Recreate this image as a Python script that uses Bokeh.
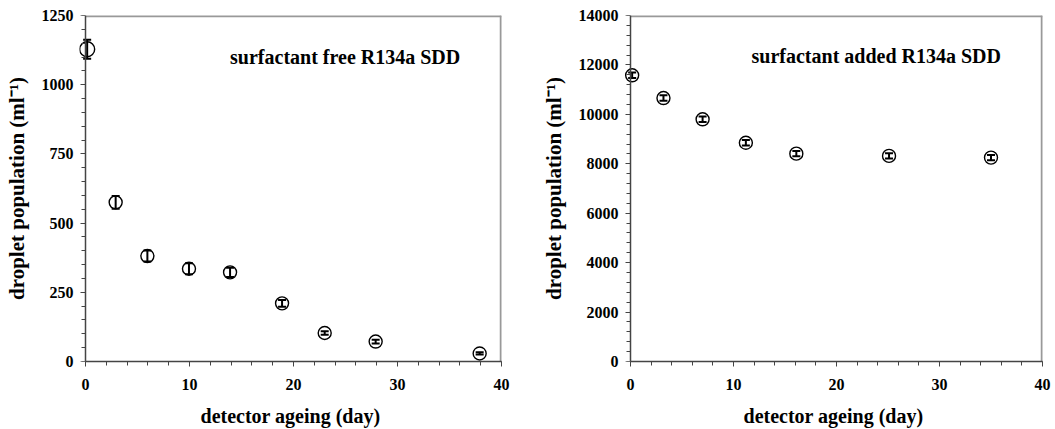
from bokeh.plotting import figure
from bokeh.layouts import row
from bokeh.models import (ColumnDataSource, Whisker, TeeHead, Label, Range1d,
                          SingleIntervalTicker, LinearAxis)
from bokeh.embed import file_html
from bokeh.resources import INLINE

# Left panel: surfactant free
free_day = [0.16, 2.9, 5.95, 9.95, 13.9, 18.9, 23.0, 27.9, 37.9]
free_pop = [1128, 575, 381, 335, 322, 210, 103, 72, 29]
free_err = [34, 23, 20, 20, 17, 12, 6, 7, 4]

# Right panel: surfactant added
added_day = [0.16, 3.2, 7.0, 11.2, 16.1, 25.1, 35.0]
added_pop = [11580, 10660, 9800, 8850, 8410, 8320, 8250]
added_err = [110, 110, 110, 110, 110, 110, 110]

FONT = "Liberation Serif"
AX = "#444444"
XMAX = 40


def style_axis(ax, tick_color):
    ax.axis_line_width = 1.5
    ax.major_tick_line_color = tick_color
    ax.minor_tick_line_color = tick_color
    ax.major_label_text_font = FONT
    ax.major_label_text_font_style = "bold"
    ax.major_label_text_font_size = "16px"
    ax.major_label_text_color = "black"
    ax.axis_label_text_font = FONT
    ax.axis_label_text_font_style = "bold"
    ax.axis_label_text_font_size = "21px"
    ax.axis_label_text_color = "black"


def make_panel(days, pops, errs, ymax, ymajor, title, tx, ty, width, left, right, xstart, sizes):
    p = figure(width=width, height=429, output_backend="svg", toolbar_location=None,
               x_range=Range1d(xstart, XMAX), y_range=Range1d(0, ymax),
               min_border_left=left, min_border_right=right,
               min_border_top=15, min_border_bottom=67)
    p.xgrid.visible = False
    p.ygrid.visible = False
    p.outline_line_color = None
    p.background_fill_color = "white"
    p.border_fill_color = "white"

    # gray top and right frame lines
    p.segment(x0=[0, XMAX], y0=[ymax, 0], x1=[XMAX, XMAX], y1=[ymax, ymax],
              line_color="#999999", line_width=3.5)

    lower = [v - e for v, e in zip(pops, errs)]
    upper = [v + e for v, e in zip(pops, errs)]
    src = ColumnDataSource(dict(x=days, y=pops, lo=lower, hi=upper, s=sizes))
    w = Whisker(source=src, base="x", lower="lo", upper="hi", line_color="black", line_width=2,
                upper_head=TeeHead(size=8, line_color="black", line_width=2),
                lower_head=TeeHead(size=8, line_color="black", line_width=2))
    p.add_layout(w)
    p.scatter("x", "y", source=src, size="s", fill_color=None, line_color="black", line_width=1.4)

    # x axis
    xa = p.xaxis[0]
    xa.ticker = SingleIntervalTicker(interval=10, num_minor_ticks=5)
    xa.bounds = (0, XMAX)
    style_axis(xa, AX)
    xa.axis_line_color = AX
    xa.major_tick_in = 0
    xa.major_tick_out = 5
    xa.minor_tick_in = 0
    xa.minor_tick_out = 4
    xa.major_label_standoff = 12
    xa.axis_label_standoff = 12
    xa.axis_label_text_font_size = "20px"
    xa.axis_label = "detector ageing (day)"

    yticker = SingleIntervalTicker(interval=ymajor, num_minor_ticks=5)
    # y axis at frame edge: labels only
    ya = p.yaxis[0]
    ya.ticker = yticker
    style_axis(ya, None)
    ya.axis_line_color = None
    ya.major_tick_in = 0
    ya.major_tick_out = 0
    ya.minor_tick_in = 0
    ya.minor_tick_out = 0
    ya.major_label_standoff = 6
    ya.axis_label_standoff = 10
    ya.axis_label = "droplet population (ml\u207b\u00b9)"

    # y axis line and ticks exactly at x = 0
    yline = LinearAxis(fixed_location=0, ticker=yticker, axis_label=None)
    style_axis(yline, AX)
    yline.axis_line_color = AX
    yline.major_label_text_font_size = "0px"
    yline.major_label_text_color = None
    yline.major_label_standoff = 0
    yline.major_tick_in = 0
    yline.major_tick_out = 5
    yline.minor_tick_in = 0
    yline.minor_tick_out = 4
    p.add_layout(yline, "left")

    p.add_layout(Label(x=tx, y=ty, text=title, text_font=FONT, text_font_style="bold",
                       text_font_size="20px", text_color="black"))
    return p


p1 = make_panel(free_day, free_pop, free_err, 1250, 250,
                "surfactant free R134a SDD", 13.9, 1059, 530, 79, 29, -0.577,
                [15, 13, 13, 13, 13, 13, 13, 13, 13])
p2 = make_panel(added_day, added_pop, added_err, 14000, 2000,
                "surfactant added R134a SDD", 11.75, 11900, 525, 94, 13, -0.583,
                [13, 13, 13, 13, 13, 13, 13])

layout = row(p1, p2)
open("out.html", "w").write(file_html(layout, INLINE))
